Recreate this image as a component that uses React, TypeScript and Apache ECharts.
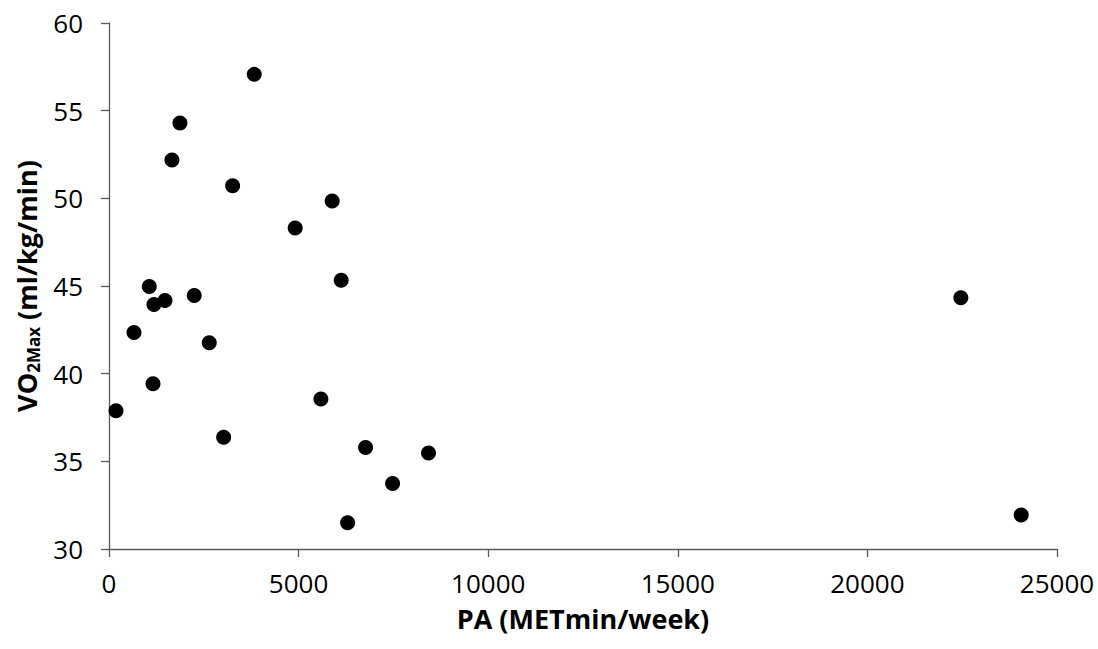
import React, { useEffect, useRef } from "react";
import * as echarts from "echarts";

const paValues = [3830, 1871, 1660, 3260, 5886, 4910, 6123, 1062, 1186, 1476, 2248, 659, 2644, 1160, 185, 5588, 3023, 6766, 8426, 7478, 6292, 24056, 22464];
const vo2Values = [57.07, 54.29, 52.18, 50.72, 49.85, 48.31, 45.33, 44.97, 43.94, 44.17, 44.46, 42.35, 41.76, 39.43, 37.89, 38.55, 36.37, 35.79, 35.48, 33.74, 31.5, 31.94, 44.33];
const xTicks = [0, 5000, 10000, 15000, 20000, 25000];
const yTicks = [30, 35, 40, 45, 50, 55, 60];
const xTitle = "PA (METmin/week)";
const yTitleParts = ["VO", "2Max", " (ml/kg/min)"];

const FONT = "'Open Sans', sans-serif";

export default function App() {
  const ref = useRef<HTMLDivElement>(null);
  useEffect(() => {
    if (!ref.current) return;
    const chart = echarts.init(ref.current, undefined, { renderer: "svg" });
    const data = paValues.map((x, i) => [x, vo2Values[i]]);
    const axisLine = { lineStyle: { color: "#595959", width: 1.3 } };
    chart.setOption({
      animation: false,
      backgroundColor: "#ffffff",
      grid: { left: 109, right: 41, top: 23, bottom: 100, containLabel: false },
      xAxis: {
        type: "value",
        min: xTicks[0],
        max: xTicks[xTicks.length - 1],
        interval: xTicks[1] - xTicks[0],
        splitLine: { show: false },
        axisLine: { ...axisLine, onZero: false },
        axisTick: { show: true, length: 8, lineStyle: { color: "#595959", width: 1.3 } },
        axisLabel: { fontFamily: FONT, fontSize: 26, color: "#000", margin: 21, formatter: (v: number) => String(v) },
        name: xTitle,
        nameLocation: "middle",
        nameGap: 56,
        nameTextStyle: { fontFamily: FONT, fontSize: 27, fontWeight: "bold", color: "#000" },
      },
      yAxis: {
        type: "value",
        min: yTicks[0],
        max: yTicks[yTicks.length - 1],
        interval: yTicks[1] - yTicks[0],
        splitLine: { show: false },
        axisLine: { ...axisLine, onZero: false },
        axisTick: { show: true, length: 8, lineStyle: { color: "#595959", width: 1.3 } },
        axisLabel: { fontFamily: FONT, fontSize: 26, color: "#000", margin: 26, formatter: (v: number) => String(v) },
        name: `{a|${yTitleParts[0]}}{b|${yTitleParts[1]}}{a|${yTitleParts[2]}}`,
        nameLocation: "middle",
        nameGap: 63,
        nameRotate: 90,
        nameTextStyle: {
          fontFamily: FONT,
          color: "#000",
          rich: {
            a: { fontFamily: FONT, fontSize: 27, fontWeight: "bold", color: "#000", lineHeight: 32 },
            b: { fontFamily: FONT, fontSize: 17, fontWeight: "bold", color: "#000", lineHeight: 32, verticalAlign: "bottom", padding: [11, 0, 0, 0] },
          },
        },
      },
      series: [
        {
          type: "scatter",
          data,
          symbol: "circle",
          symbolSize: 15,
          itemStyle: { color: "#000000", opacity: 1 },
        },
      ],
    });
    return () => chart.dispose();
  }, []);
  return <div ref={ref} style={{ position: "fixed", left: 0, top: 0, width: 1098, height: 649 }} />;
}
